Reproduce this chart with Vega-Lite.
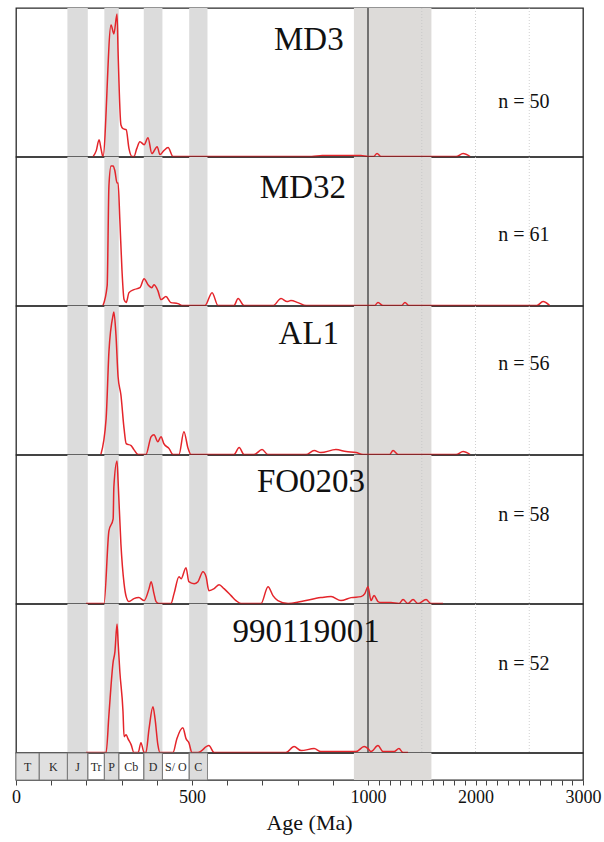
{
  "$schema": "https://vega.github.io/schema/vega-lite/v6.json",
  "background": "white",
  "padding": {"left": 10, "top": 6, "right": 4, "bottom": 4},
  "spacing": 0,
  "bounds": "flush",
  "config": {
    "view": {"stroke": "#2a2a2a", "strokeWidth": 1.3},
    "concat": {"spacing": 0},
    "text": {"font": "Liberation Serif"}
  },
  "datasets": {
    "bands": [
      {"start": 146, "end": 204},
      {"start": 251, "end": 292},
      {"start": 363, "end": 416},
      {"start": 492, "end": 544}
    ],
    "craton": [{"start": 960, "end": 1590}],
    "grid": [{"age": 1500}, {"age": 2000}, {"age": 2500}],
    "divide": [{"age": 1000}],
    "periods": [
      {"period": "T", "start": 0, "end": 66, "mid": 33},
      {"period": "K", "start": 66, "end": 146, "mid": 106},
      {"period": "J", "start": 146, "end": 204, "mid": 175},
      {"period": "Tr", "start": 204, "end": 251, "mid": 227.5},
      {"period": "P", "start": 251, "end": 292, "mid": 271.5},
      {"period": "Cb", "start": 292, "end": 363, "mid": 327.5},
      {"period": "D", "start": 363, "end": 416, "mid": 389.5},
      {"period": "S/ O", "start": 416, "end": 492, "mid": 454},
      {"period": "C", "start": 492, "end": 544, "mid": 518}
    ],
    "md3": [
      {"age": 219, "p": 0}, {"age": 228, "p": 6}, {"age": 236, "p": 17}, {"age": 242, "p": 7}, {"age": 247, "p": 0},
      {"age": 270, "p": 132}, {"age": 278, "p": 123}, {"age": 287, "p": 143}, {"age": 290, "p": 105}, {"age": 298, "p": 32},
      {"age": 304, "p": 28}, {"age": 313, "p": 27}, {"age": 321, "p": 8}, {"age": 330, "p": 0}, {"age": 335, "p": 0},
      {"age": 343, "p": 8}, {"age": 352, "p": 15}, {"age": 364, "p": 12}, {"age": 375, "p": 19}, {"age": 386, "p": 3},
      {"age": 401, "p": 10}, {"age": 409, "p": 2}, {"age": 420, "p": 6}, {"age": 432, "p": 9}, {"age": 446, "p": 0},
      {"age": 840, "p": 0}, {"age": 870, "p": 1}, {"age": 980, "p": 1}, {"age": 1000, "p": 0}, {"age": 1050, "p": 0},
      {"age": 1084, "p": 3}, {"age": 1121, "p": 0}, {"age": 1820, "p": 0}, {"age": 1884, "p": 3}, {"age": 1950, "p": 0}
    ],
    "md32": [
      {"age": 247, "p": 0}, {"age": 259, "p": 20}, {"age": 264, "p": 120}, {"age": 270, "p": 140}, {"age": 276, "p": 140},
      {"age": 281, "p": 135}, {"age": 287, "p": 123}, {"age": 290, "p": 123}, {"age": 295, "p": 86}, {"age": 301, "p": 36},
      {"age": 307, "p": 6}, {"age": 313, "p": 3}, {"age": 321, "p": 13}, {"age": 335, "p": 16}, {"age": 352, "p": 18},
      {"age": 364, "p": 27}, {"age": 375, "p": 21}, {"age": 386, "p": 18}, {"age": 392, "p": 21}, {"age": 403, "p": 15},
      {"age": 412, "p": 6}, {"age": 426, "p": 9}, {"age": 440, "p": 3}, {"age": 460, "p": 2}, {"age": 474, "p": 0},
      {"age": 537, "p": 0}, {"age": 557, "p": 13}, {"age": 574, "p": 0}, {"age": 619, "p": 0}, {"age": 631, "p": 7},
      {"age": 648, "p": 0}, {"age": 730, "p": 0}, {"age": 753, "p": 7}, {"age": 770, "p": 4}, {"age": 781, "p": 5},
      {"age": 801, "p": 3}, {"age": 824, "p": 0}, {"age": 1060, "p": 0}, {"age": 1093, "p": 3}, {"age": 1140, "p": 0},
      {"age": 1310, "p": 0}, {"age": 1344, "p": 3}, {"age": 1380, "p": 0}, {"age": 2570, "p": 0}, {"age": 2628, "p": 4},
      {"age": 2690, "p": 0}
    ],
    "al1": [
      {"age": 241, "p": 0}, {"age": 256, "p": 36}, {"age": 264, "p": 103}, {"age": 276, "p": 140}, {"age": 278, "p": 143},
      {"age": 284, "p": 120}, {"age": 290, "p": 78}, {"age": 298, "p": 60}, {"age": 307, "p": 26}, {"age": 313, "p": 11},
      {"age": 327, "p": 9}, {"age": 335, "p": 5}, {"age": 347, "p": 0}, {"age": 369, "p": 0}, {"age": 384, "p": 18},
      {"age": 392, "p": 20}, {"age": 403, "p": 13}, {"age": 412, "p": 18}, {"age": 420, "p": 11}, {"age": 435, "p": 6},
      {"age": 446, "p": 0}, {"age": 463, "p": 0}, {"age": 477, "p": 23}, {"age": 489, "p": 6}, {"age": 497, "p": 0},
      {"age": 619, "p": 0}, {"age": 634, "p": 7}, {"age": 648, "p": 0}, {"age": 676, "p": 0}, {"age": 699, "p": 5},
      {"age": 716, "p": 0}, {"age": 824, "p": 0}, {"age": 847, "p": 4}, {"age": 866, "p": 2}, {"age": 909, "p": 5},
      {"age": 938, "p": 3}, {"age": 966, "p": 2}, {"age": 986, "p": 0}, {"age": 1200, "p": 0}, {"age": 1233, "p": 4},
      {"age": 1280, "p": 0}, {"age": 1820, "p": 0}, {"age": 1884, "p": 3}, {"age": 1950, "p": 0}
    ],
    "fo0203": [
      {"age": 199, "p": 0}, {"age": 250, "p": 0}, {"age": 264, "p": 73}, {"age": 276, "p": 85}, {"age": 278, "p": 117},
      {"age": 287, "p": 143}, {"age": 290, "p": 123}, {"age": 298, "p": 60}, {"age": 307, "p": 20}, {"age": 313, "p": 7},
      {"age": 321, "p": 2}, {"age": 335, "p": 5}, {"age": 349, "p": 6}, {"age": 364, "p": 3}, {"age": 378, "p": 15},
      {"age": 384, "p": 22}, {"age": 392, "p": 10}, {"age": 398, "p": 2}, {"age": 406, "p": 0}, {"age": 440, "p": 0},
      {"age": 449, "p": 10}, {"age": 463, "p": 27}, {"age": 469, "p": 25}, {"age": 483, "p": 36}, {"age": 491, "p": 22},
      {"age": 506, "p": 20}, {"age": 517, "p": 22}, {"age": 531, "p": 32}, {"age": 540, "p": 27}, {"age": 548, "p": 13},
      {"age": 563, "p": 15}, {"age": 577, "p": 19}, {"age": 591, "p": 15}, {"age": 611, "p": 8}, {"age": 625, "p": 3},
      {"age": 639, "p": 0}, {"age": 696, "p": 0}, {"age": 716, "p": 17}, {"age": 730, "p": 8}, {"age": 744, "p": 3},
      {"age": 773, "p": 0}, {"age": 810, "p": 2}, {"age": 866, "p": 6}, {"age": 895, "p": 7}, {"age": 923, "p": 3},
      {"age": 952, "p": 6}, {"age": 980, "p": 7}, {"age": 991, "p": 10}, {"age": 1000, "p": 17}, {"age": 1028, "p": 3},
      {"age": 1056, "p": 8}, {"age": 1093, "p": 2}, {"age": 1121, "p": 1}, {"age": 1214, "p": 1}, {"age": 1288, "p": 0},
      {"age": 1326, "p": 4}, {"age": 1372, "p": 0}, {"age": 1419, "p": 4}, {"age": 1465, "p": 0}, {"age": 1540, "p": 4},
      {"age": 1586, "p": 0}, {"age": 1698, "p": 0}
    ],
    "s990119001": [
      {"age": 199, "p": 0}, {"age": 256, "p": 0}, {"age": 264, "p": 38}, {"age": 276, "p": 91}, {"age": 281, "p": 101},
      {"age": 287, "p": 129}, {"age": 290, "p": 111}, {"age": 295, "p": 81}, {"age": 304, "p": 41}, {"age": 307, "p": 16},
      {"age": 313, "p": 18}, {"age": 318, "p": 14}, {"age": 327, "p": 8}, {"age": 335, "p": 0}, {"age": 347, "p": 0},
      {"age": 355, "p": 10}, {"age": 364, "p": 0}, {"age": 369, "p": 0}, {"age": 378, "p": 24}, {"age": 389, "p": 46},
      {"age": 395, "p": 34}, {"age": 403, "p": 8}, {"age": 409, "p": 0}, {"age": 446, "p": 0}, {"age": 457, "p": 14},
      {"age": 474, "p": 25}, {"age": 483, "p": 14}, {"age": 491, "p": 10}, {"age": 500, "p": 0}, {"age": 517, "p": 0},
      {"age": 548, "p": 7}, {"age": 563, "p": 0}, {"age": 767, "p": 0}, {"age": 790, "p": 6}, {"age": 810, "p": 2},
      {"age": 847, "p": 4}, {"age": 866, "p": 1}, {"age": 966, "p": 1}, {"age": 989, "p": 6}, {"age": 1000, "p": 4},
      {"age": 1028, "p": 1}, {"age": 1093, "p": 7}, {"age": 1140, "p": 1}, {"age": 1242, "p": 1}, {"age": 1288, "p": 4},
      {"age": 1326, "p": 0}, {"age": 1372, "p": 0}
    ]
  },
  "vconcat": [
    {
      "width": 567, "height": 148.6,
      "layer": [
        {"data": {"name": "bands"}, "mark": {"type": "rect", "color": "#dcdcdc"},
         "encoding": {"x": {"field": "start", "type": "quantitative", "scale": {"domain": [0, 1000, 3000], "range": [0, 352, 567], "nice": false}, "axis": null}, "x2": {"field": "end"}}},
        {"data": {"name": "craton"}, "mark": {"type": "rect", "color": "#dddbd9"},
         "encoding": {"x": {"field": "start", "type": "quantitative", "axis": null}, "x2": {"field": "end"}}},
        {"data": {"name": "grid"}, "mark": {"type": "rule", "color": "#c4c4c4", "strokeDash": [1, 2], "strokeWidth": 0.8},
         "encoding": {"x": {"field": "age", "type": "quantitative", "axis": null}}},
        {"data": {"name": "divide"}, "mark": {"type": "rule", "color": "#2a2a2a", "strokeWidth": 1.2},
         "encoding": {"x": {"field": "age", "type": "quantitative", "axis": null}}},
        {"data": {"name": "md3"}, "mark": {"type": "line", "color": "#e4252b", "strokeWidth": 1.5, "interpolate": "monotone"},
         "encoding": {"x": {"field": "age", "type": "quantitative", "axis": null}, "y": {"field": "p", "type": "quantitative", "scale": {"domain": [0, 149], "nice": false}, "axis": null}}},
        {"data": {"values": [{"label": "MD3"}]}, "mark": {"type": "text", "fontSize": 33, "color": "#111"},
         "encoding": {"text": {"field": "label"}, "x": {"datum": 832, "type": "quantitative", "axis": null}, "y": {"datum": 117, "type": "quantitative", "axis": null}}},
        {"data": {"values": [{"label": "n = 50"}]}, "mark": {"type": "text", "fontSize": 20, "color": "#111"},
         "encoding": {"text": {"field": "label"}, "x": {"datum": 2450, "type": "quantitative", "axis": null}, "y": {"datum": 55, "type": "quantitative", "axis": null}}}
      ]
    },
    {
      "width": 567, "height": 148.6,
      "layer": [
        {"data": {"name": "bands"}, "mark": {"type": "rect", "color": "#dcdcdc"},
         "encoding": {"x": {"field": "start", "type": "quantitative", "scale": {"domain": [0, 1000, 3000], "range": [0, 352, 567], "nice": false}, "axis": null}, "x2": {"field": "end"}}},
        {"data": {"name": "craton"}, "mark": {"type": "rect", "color": "#dddbd9"},
         "encoding": {"x": {"field": "start", "type": "quantitative", "axis": null}, "x2": {"field": "end"}}},
        {"data": {"name": "grid"}, "mark": {"type": "rule", "color": "#c4c4c4", "strokeDash": [1, 2], "strokeWidth": 0.8},
         "encoding": {"x": {"field": "age", "type": "quantitative", "axis": null}}},
        {"data": {"name": "divide"}, "mark": {"type": "rule", "color": "#2a2a2a", "strokeWidth": 1.2},
         "encoding": {"x": {"field": "age", "type": "quantitative", "axis": null}}},
        {"data": {"name": "md32"}, "mark": {"type": "line", "color": "#e4252b", "strokeWidth": 1.5, "interpolate": "monotone"},
         "encoding": {"x": {"field": "age", "type": "quantitative", "axis": null}, "y": {"field": "p", "type": "quantitative", "scale": {"domain": [0, 149], "nice": false}, "axis": null}}},
        {"data": {"values": [{"label": "MD32"}]}, "mark": {"type": "text", "fontSize": 33, "color": "#111"},
         "encoding": {"text": {"field": "label"}, "x": {"datum": 815, "type": "quantitative", "axis": null}, "y": {"datum": 118, "type": "quantitative", "axis": null}}},
        {"data": {"values": [{"label": "n = 61"}]}, "mark": {"type": "text", "fontSize": 20, "color": "#111"},
         "encoding": {"text": {"field": "label"}, "x": {"datum": 2450, "type": "quantitative", "axis": null}, "y": {"datum": 71, "type": "quantitative", "axis": null}}}
      ]
    },
    {
      "width": 567, "height": 148.6,
      "layer": [
        {"data": {"name": "bands"}, "mark": {"type": "rect", "color": "#dcdcdc"},
         "encoding": {"x": {"field": "start", "type": "quantitative", "scale": {"domain": [0, 1000, 3000], "range": [0, 352, 567], "nice": false}, "axis": null}, "x2": {"field": "end"}}},
        {"data": {"name": "craton"}, "mark": {"type": "rect", "color": "#dddbd9"},
         "encoding": {"x": {"field": "start", "type": "quantitative", "axis": null}, "x2": {"field": "end"}}},
        {"data": {"name": "grid"}, "mark": {"type": "rule", "color": "#c4c4c4", "strokeDash": [1, 2], "strokeWidth": 0.8},
         "encoding": {"x": {"field": "age", "type": "quantitative", "axis": null}}},
        {"data": {"name": "divide"}, "mark": {"type": "rule", "color": "#2a2a2a", "strokeWidth": 1.2},
         "encoding": {"x": {"field": "age", "type": "quantitative", "axis": null}}},
        {"data": {"name": "al1"}, "mark": {"type": "line", "color": "#e4252b", "strokeWidth": 1.5, "interpolate": "monotone"},
         "encoding": {"x": {"field": "age", "type": "quantitative", "axis": null}, "y": {"field": "p", "type": "quantitative", "scale": {"domain": [0, 149], "nice": false}, "axis": null}}},
        {"data": {"values": [{"label": "AL1"}]}, "mark": {"type": "text", "fontSize": 33, "color": "#111"},
         "encoding": {"text": {"field": "label"}, "x": {"datum": 832, "type": "quantitative", "axis": null}, "y": {"datum": 121, "type": "quantitative", "axis": null}}},
        {"data": {"values": [{"label": "n = 56"}]}, "mark": {"type": "text", "fontSize": 20, "color": "#111"},
         "encoding": {"text": {"field": "label"}, "x": {"datum": 2450, "type": "quantitative", "axis": null}, "y": {"datum": 91, "type": "quantitative", "axis": null}}}
      ]
    },
    {
      "width": 567, "height": 148.6,
      "layer": [
        {"data": {"name": "bands"}, "mark": {"type": "rect", "color": "#dcdcdc"},
         "encoding": {"x": {"field": "start", "type": "quantitative", "scale": {"domain": [0, 1000, 3000], "range": [0, 352, 567], "nice": false}, "axis": null}, "x2": {"field": "end"}}},
        {"data": {"name": "craton"}, "mark": {"type": "rect", "color": "#dddbd9"},
         "encoding": {"x": {"field": "start", "type": "quantitative", "axis": null}, "x2": {"field": "end"}}},
        {"data": {"name": "grid"}, "mark": {"type": "rule", "color": "#c4c4c4", "strokeDash": [1, 2], "strokeWidth": 0.8},
         "encoding": {"x": {"field": "age", "type": "quantitative", "axis": null}}},
        {"data": {"name": "divide"}, "mark": {"type": "rule", "color": "#2a2a2a", "strokeWidth": 1.2},
         "encoding": {"x": {"field": "age", "type": "quantitative", "axis": null}}},
        {"data": {"name": "fo0203"}, "mark": {"type": "line", "color": "#e4252b", "strokeWidth": 1.5, "interpolate": "monotone"},
         "encoding": {"x": {"field": "age", "type": "quantitative", "axis": null}, "y": {"field": "p", "type": "quantitative", "scale": {"domain": [0, 149], "nice": false}, "axis": null}}},
        {"data": {"values": [{"label": "FO0203"}]}, "mark": {"type": "text", "fontSize": 33, "color": "#111"},
         "encoding": {"text": {"field": "label"}, "x": {"datum": 838, "type": "quantitative", "axis": null}, "y": {"datum": 122, "type": "quantitative", "axis": null}}},
        {"data": {"values": [{"label": "n = 58"}]}, "mark": {"type": "text", "fontSize": 20, "color": "#111"},
         "encoding": {"text": {"field": "label"}, "x": {"datum": 2450, "type": "quantitative", "axis": null}, "y": {"datum": 89, "type": "quantitative", "axis": null}}}
      ]
    },
    {
      "width": 567, "height": 148.6,
      "layer": [
        {"data": {"name": "bands"}, "mark": {"type": "rect", "color": "#dcdcdc"},
         "encoding": {"x": {"field": "start", "type": "quantitative", "scale": {"domain": [0, 1000, 3000], "range": [0, 352, 567], "nice": false}, "axis": null}, "x2": {"field": "end"}}},
        {"data": {"name": "craton"}, "mark": {"type": "rect", "color": "#dddbd9"},
         "encoding": {"x": {"field": "start", "type": "quantitative", "axis": null}, "x2": {"field": "end"}}},
        {"data": {"name": "grid"}, "mark": {"type": "rule", "color": "#c4c4c4", "strokeDash": [1, 2], "strokeWidth": 0.8},
         "encoding": {"x": {"field": "age", "type": "quantitative", "axis": null}}},
        {"data": {"name": "divide"}, "mark": {"type": "rule", "color": "#2a2a2a", "strokeWidth": 1.2},
         "encoding": {"x": {"field": "age", "type": "quantitative", "axis": null}}},
        {"data": {"name": "s990119001"}, "mark": {"type": "line", "color": "#e4252b", "strokeWidth": 1.5, "interpolate": "monotone"},
         "encoding": {"x": {"field": "age", "type": "quantitative", "axis": null}, "y": {"field": "p", "type": "quantitative", "scale": {"domain": [0, 149], "nice": false}, "axis": null}}},
        {"data": {"values": [{"label": "990119001"}]}, "mark": {"type": "text", "fontSize": 33, "color": "#111"},
         "encoding": {"text": {"field": "label"}, "x": {"datum": 824, "type": "quantitative", "axis": null}, "y": {"datum": 121, "type": "quantitative", "axis": null}}},
        {"data": {"values": [{"label": "n = 52"}]}, "mark": {"type": "text", "fontSize": 20, "color": "#111"},
         "encoding": {"text": {"field": "label"}, "x": {"datum": 2450, "type": "quantitative", "axis": null}, "y": {"datum": 89, "type": "quantitative", "axis": null}}}
      ]
    },
    {
      "width": 567, "height": 27,
      "layer": [
        {"data": {"name": "bands"}, "mark": {"type": "rect", "color": "#dcdcdc"},
         "encoding": {
           "x": {"field": "start", "type": "quantitative",
                 "scale": {"domain": [0, 1000, 3000], "range": [0, 352, 567], "nice": false},
                 "axis": {
                   "values": [0, 100, 200, 300, 400, 500, 600, 700, 800, 900, 1000, 1100, 1200, 1300, 1400, 1500, 1600, 1700, 1800, 1900, 2000, 2100, 2200, 2300, 2400, 2500, 2600, 2700, 2800, 2900, 3000],
                   "tickCount": 100,
                   "labelExpr": "indexof([0, 500, 1000, 2000, 3000], datum.value) >= 0 ? datum.label : ''",
                   "format": "d",
                   "domain": false, "grid": false,
                   "tickSize": 5, "tickColor": "#444", "tickWidth": 1,
                   "labelFont": "Liberation Serif", "labelFontSize": 18, "labelColor": "#111", "labelPadding": 3,
                   "labelOverlap": false, "labelFlush": false,
                   "title": "Age (Ma)", "titleFont": "Liberation Serif", "titleFontSize": 22, "titleFontWeight": "normal",
                   "titleColor": "#111", "titlePadding": 6, "titleX": 293
                 }},
           "x2": {"field": "end"}}},
        {"data": {"name": "periods"}, "transform": [{"filter": "datum.period == 'T' || datum.period == 'K'"}],
         "mark": {"type": "rect", "color": "#e0e0e0"},
         "encoding": {"x": {"field": "start", "type": "quantitative"}, "x2": {"field": "end"}}},
        {"data": {"name": "craton"}, "mark": {"type": "rect", "color": "#dddbd9"},
         "encoding": {"x": {"field": "start", "type": "quantitative"}, "x2": {"field": "end"}}},
        {"data": {"name": "periods"}, "mark": {"type": "rect", "fillOpacity": 0, "stroke": "#7a7a7a", "strokeWidth": 0.9},
         "encoding": {"x": {"field": "start", "type": "quantitative"}, "x2": {"field": "end"}}},
        {"data": {"name": "periods"}, "mark": {"type": "text", "fontSize": 12, "color": "#2a2a2a"},
         "encoding": {"x": {"field": "mid", "type": "quantitative"}, "text": {"field": "period"}}}
      ]
    }
  ]
}
